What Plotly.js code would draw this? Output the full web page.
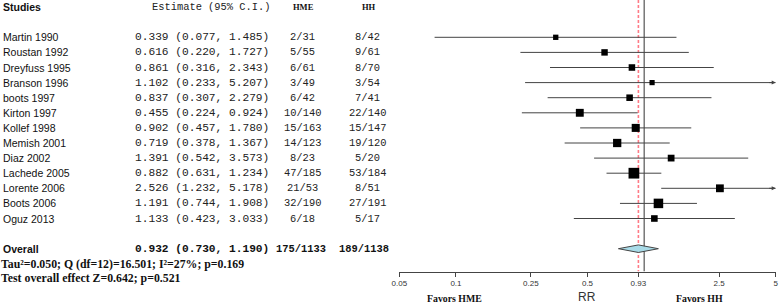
<!DOCTYPE html>
<html>
<head>
<meta charset="utf-8">
<script src="https://cdn.plot.ly/plotly-3.0.1.min.js"></script>
<style>html,body{margin:0;padding:0;background:#fff;}#chart{width:779px;height:303px;}</style>
</head>
<body>
<div id="chart"></div>
<script>
// ---- data ----
const studies = ["Martin 1990","Roustan 1992","Dreyfuss 1995","Branson 1996","boots 1997","Kirton 1997","Kollef 1998","Memish 2001","Diaz 2002","Lachede 2005","Lorente 2006","Boots 2006","Oguz 2013"];
const estimates = [0.339,0.616,0.861,1.102,0.837,0.455,0.902,0.719,1.391,0.882,2.526,1.191,1.133];
const lowerCI  = [0.077,0.220,0.316,0.233,0.307,0.224,0.457,0.378,0.542,0.631,1.232,0.744,0.423];
const upperCI  = [1.485,1.727,2.343,5.207,2.279,0.924,1.780,1.367,3.573,1.234,5.178,1.908,3.033];
const hmeEvents = [2,5,6,3,6,10,15,14,8,47,21,32,6];
const hmeTotal  = [31,55,61,49,42,140,163,123,23,185,53,190,18];
const hhEvents  = [8,9,8,3,7,22,15,19,5,53,8,27,5];
const hhTotal   = [42,61,70,54,41,140,147,120,20,184,51,191,17];
const overall = {est:0.932, lo:0.730, hi:1.190, hme:"175/1133", hh:"189/1138"};
const tau2 = 0.050;
const tickVals = [0.05,0.1,0.25,0.5,0.932,2.5,5];
const tickText = ["0.05","0.1","0.25","0.5","0.93","2.5","5"];
const statText1 = "Tau\u00b2=0.050; Q (df=12)=16.501; I\u00b2=27%; p=0.169";
const statText2 = "Test overall effect Z=0.642; p=0.521";

// ---- layout helpers ----
const W = 779, H = 303;
const xMin = 0.05, xMax = 5;
const overallRow = studies.length + 1;
const yTop = -2.47, yBot = 15.51;
const px = v => v / W;
const py = v => (H - v) / H;

const sans = "Liberation Sans, Arial, sans-serif";
const mono = "Liberation Mono, Courier New, monospace";
const serif = "Liberation Serif, Times New Roman, serif";

const rows = studies.map((_, i) => i);

// CI lines
const ciX = [], ciY = [];
rows.forEach(i => {
  ciX.push(Math.max(lowerCI[i], xMin), Math.min(upperCI[i], xMax), null);
  ciY.push(i, i, null);
});

// box sizes from inverse-variance (random effects) weight
const sizes = rows.map(i => {
  const se = (Math.log(upperCI[i]) - Math.log(lowerCI[i])) / 3.92;
  const w = 1 / (se * se + tau2);
  return 2.3 + 2.37 * Math.sqrt(w);
});

const traces = [
  {x: [1, 1], y: [yTop, yBot], mode: 'lines', line: {color: '#333', width: 1}, hoverinfo: 'skip'},
  {x: [overall.est, overall.est], y: [yTop, yBot], mode: 'lines', line: {color: '#ff7b86', width: 1.6, dash: '3px,2px'}, hoverinfo: 'skip'},
  {x: ciX, y: ciY, mode: 'lines', line: {color: '#444', width: 1}, hoverinfo: 'skip'},
  {x: estimates, y: rows, mode: 'markers', marker: {symbol: 'square', size: sizes, color: '#000', opacity: 1, line: {width: 0}}},
  {x: [overall.lo, overall.est, overall.hi, overall.est, overall.lo],
   y: [overallRow, overallRow - 0.25, overallRow, overallRow + 0.25, overallRow],
   mode: 'lines', fill: 'toself', fillcolor: '#a9dbe8', line: {color: '#444', width: 1}, hoverinfo: 'skip'}
];

const ann = [];
function txt(x, y, text, font, anchor, yref) {
  ann.push({xref: 'paper', yref: yref || 'y', x: x, y: y, text: text, showarrow: false,
    xanchor: anchor || 'left', yanchor: 'middle', font: font, borderpad: 0});
}
const fName = {family: sans, size: 10.5, color: '#111'};
const fNameB = {family: sans, size: 10.5, color: '#111', weight: 'bold'};
const fEst = {family: mono, size: 11.2, color: '#222'};
const fEstB = {family: mono, size: 11.2, color: '#111', weight: 'bold'};
const fCnt = {family: mono, size: 10.4, color: '#222'};
const fCntB = {family: mono, size: 10.4, color: '#111', weight: 'bold'};
const fHead = {family: serif, size: 8.5, color: '#111', weight: 'bold'};

txt(px(2), -2, 'Studies', fNameB);
txt(px(151), -2, 'Estimate (95% C.I.)', {family: mono, size: 10.4, color: '#222'});
txt(px(303.5), -2, 'HME', fHead, 'center');
txt(px(368.5), -2, 'HH', fHead, 'center');

rows.forEach(i => {
  txt(px(2), i, studies[i], fName);
  txt(px(134), i, estimates[i].toFixed(3) + ' (' + lowerCI[i].toFixed(3) + ', ' + upperCI[i].toFixed(3) + ')', fEst);
  txt(px(302), i, hmeEvents[i] + '/' + hmeTotal[i], fCnt, 'center');
  txt(px(367), i, hhEvents[i] + '/' + hhTotal[i], fCnt, 'center');
});

txt(px(2), overallRow, 'Overall', fNameB);
txt(px(134), overallRow, overall.est.toFixed(3) + ' (' + overall.lo.toFixed(3) + ', ' + overall.hi.toFixed(3) + ')', fEstB);
txt(px(301), overallRow, overall.hme, fCntB, 'center');
txt(px(364), overallRow, overall.hh, fCntB, 'center');

txt(px(0), py(264.3), statText1, {family: serif, size: 11.8, color: '#111', weight: 'bold'}, 'left', 'paper');
txt(px(0), py(277.7), statText2, {family: serif, size: 11.8, color: '#111', weight: 'bold'}, 'left', 'paper');

txt(px(454), py(298), 'Favors HME', {family: serif, size: 9.8, color: '#111', weight: 'bold'}, 'center', 'paper');
txt(px(587), py(297), 'RR', {family: sans, size: 12, color: '#333'}, 'center', 'paper');
txt(px(699.5), py(298), 'Favors HH', {family: serif, size: 9.8, color: '#111', weight: 'bold'}, 'center', 'paper');

// arrows for CIs beyond the axis
rows.forEach(i => {
  if (upperCI[i] > xMax) {
    ann.push({xref: 'x', yref: 'y', x: Math.log10(xMax), y: i, ax: -8, ay: 0,
      showarrow: true, arrowhead: 2, arrowsize: 0.8, arrowwidth: 1, arrowcolor: '#444', text: ''});
  }
  if (lowerCI[i] < xMin) {
    ann.push({xref: 'x', yref: 'y', x: Math.log10(xMin), y: i, ax: 8, ay: 0,
      showarrow: true, arrowhead: 2, arrowsize: 0.8, arrowwidth: 1, arrowcolor: '#444', text: ''});
  }
});

const layout = {
  width: W, height: H,
  margin: {l: 0, r: 0, t: 0, b: 0},
  paper_bgcolor: '#fff', plot_bgcolor: '#fff',
  showlegend: false,
  xaxis: {type: 'log', range: [Math.log10(xMin), Math.log10(xMax)],
    domain: [399.3 / W, 775.7 / W], tickvals: tickVals, ticktext: tickText,
    ticks: 'outside', ticklen: 4, tickcolor: '#444', showline: true, linecolor: '#444', linewidth: 1,
    showgrid: false, zeroline: false, tickfont: {family: sans, size: 8, color: '#333'}},
  yaxis: {visible: false, range: [yBot, yTop], domain: [(H - 271.5) / H, 1], fixedrange: true},
  annotations: ann
};

Plotly.newPlot('chart', traces, layout, {displayModeBar: false, staticPlot: true});
</script>
</body>
</html>
